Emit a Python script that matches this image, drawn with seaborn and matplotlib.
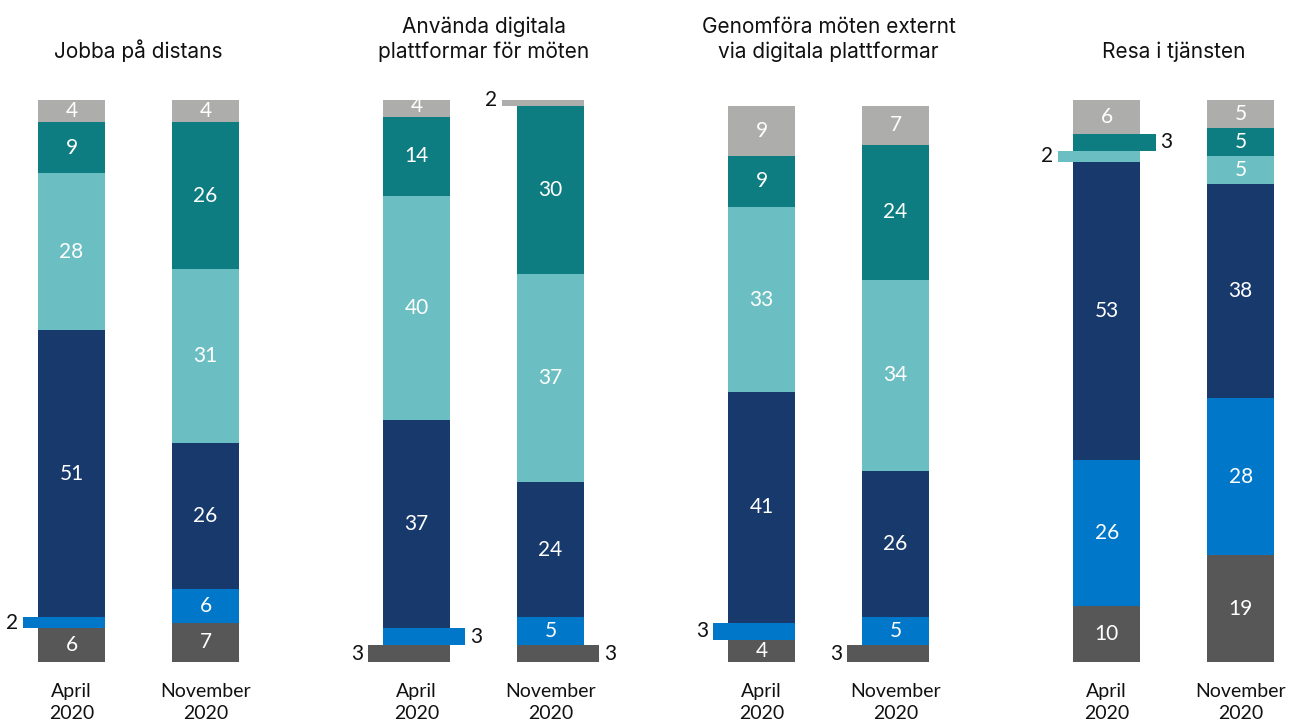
import matplotlib
matplotlib.use("Agg")
import matplotlib.pyplot as plt
import seaborn as sns

sns.set_style("white")

# Survey answers in percent, one list per panel and period, ordered bottom to top
panels = [
    "Jobba på distans",
    "Använda digitala\nplattformar för möten",
    "Genomföra möten externt\nvia digitala plattformar",
    "Resa i tjänsten",
]
periods = ["April\n2020", "November\n2020"]

april = [
    [6, 2, 51, 28, 9, 4],
    [3, 3, 37, 40, 14, 4],
    [4, 3, 41, 33, 9, 9],
    [10, 26, 53, 2, 3, 6],
]
november = [
    [7, 6, 26, 31, 26, 4],
    [3, 5, 24, 37, 30, 2],
    [3, 5, 26, 34, 24, 7],
    [19, 28, 38, 5, 5, 5],
]

colors = ["#575757", "#0077C8", "#17396B", "#6BBEC2", "#0E7D81", "#ADADAB"]

# Thin segments are drawn wider, sticking out on one side, with the label outside
side_out = {
    (0, 0, 1): "left",
    (1, 0, 0): "left", (1, 0, 1): "right",
    (1, 1, 0): "right", (1, 1, 5): "left",
    (2, 0, 1): "left",
    (2, 1, 0): "left",
    (3, 0, 3): "left", (3, 0, 4): "right",
}

bar_w = 0.5
panel_gap = 2.575
ext = 0.115
pad = 0.035

label_font = ["Lato", "DejaVu Sans"]
title_font = ["Inter", "DejaVu Sans"]

fig = plt.figure(figsize=(12.91, 7.22), dpi=100)
ax = fig.add_axes([0, 60 / 722, 1, 562 / 722])

tick_pos, tick_lab = [], []
for p, title in enumerate(panels):
    for b, series in enumerate([april[p], november[p]]):
        xc = p * panel_gap + b
        tick_pos.append(xc)
        tick_lab.append(periods[b])
        bottom = 0
        for k, v in enumerate(series):
            side = side_out.get((p, b, k))
            if side is None:
                cx, w = xc, bar_w
            elif side == "left":
                cx, w = xc - ext / 2, bar_w + ext
            else:
                cx, w = xc + ext / 2, bar_w + ext
            sns.barplot(x=[cx], y=[v], bottom=bottom, width=w, native_scale=True,
                        color=colors[k], saturation=1, errorbar=None,
                        linewidth=0, edgecolor="none", ax=ax)
            mid = bottom + v / 2
            if side is None:
                ax.text(xc, mid, f"{v}", ha="center", va="center", color="white",
                        fontsize=15, family=label_font)
            elif side == "left":
                ax.text(cx - w / 2 - pad, mid, f"{v}", ha="right", va="center",
                        color="#111111", fontsize=15, family=label_font)
            else:
                ax.text(cx + w / 2 + pad, mid, f"{v}", ha="left", va="center",
                        color="#111111", fontsize=15, family=label_font)
            bottom += v
    ax.text(p * panel_gap + 0.5, 106.8, title, ha="center", va="bottom",
            fontsize=15, family=title_font, color="#111111", linespacing=1.25,
            clip_on=False)

ax.set_xlim(-71.5 / 134, (1291 - 71.5) / 134)
ax.set_ylim(0, 100)
ax.set_xticks(tick_pos)
ax.set_xticklabels(tick_lab, family=label_font, fontsize=14,
                   color="#111111", linespacing=1.4)
ax.tick_params(axis="x", length=0, pad=15)
ax.set_yticks([])
ax.set_xlabel("")
ax.set_ylabel("")
for s in ax.spines.values():
    s.set_visible(False)

fig.savefig("out.png", dpi=100)
